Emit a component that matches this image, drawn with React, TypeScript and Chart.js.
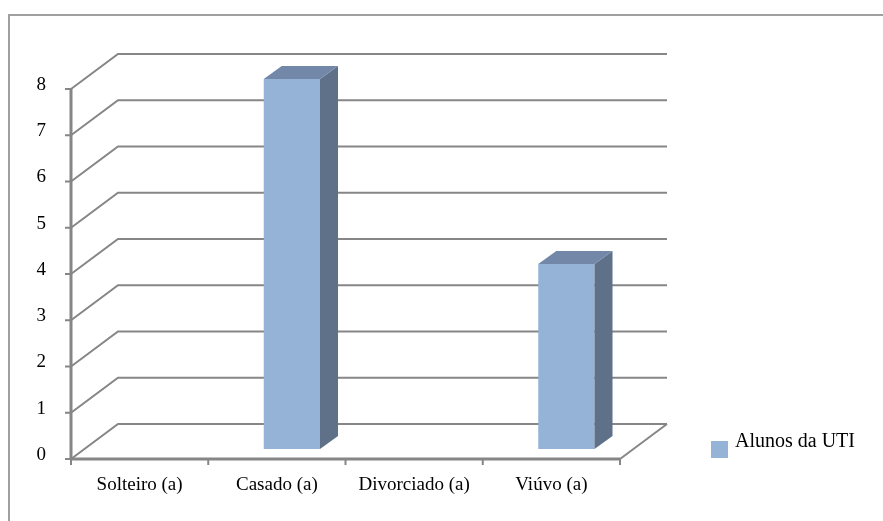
import React, { useEffect, useRef } from "react";
import { Chart, registerables } from "chart.js";

Chart.register(...registerables);

const CATEGORIES = ["Solteiro (a)", "Casado (a)", "Divorciado (a)", "Viúvo (a)"];
const SERIES_LABEL = "Alunos da UTI";
const SERIES_VALUES = [0, 8, 0, 4];
const Y_TICKS = [0, 1, 2, 3, 4, 5, 6, 7, 8];

const FONT = "Liberation Serif";
const FRONT_COLOR = "#95B3D7";
const TOP_COLOR = "#7388A8";
const SIDE_COLOR = "#5F7089";
const GRID_COLOR = "#868686";

// 3D offsets relative to the bar (data) plane
const FRONT = { dx: -15, dy: 10 };
const BACK = { dx: 32, dy: -25 };
const BAR_DEPTH = { dx: 18, dy: -13 };

const threeD = {
  id: "threeD",
  beforeDatasetsDraw(chart: any) {
    const ctx = chart.ctx;
    const xs = chart.scales.x;
    const ys = chart.scales.y;
    ctx.save();
    // outer frame
    ctx.strokeStyle = "#A0A0A0";
    ctx.lineWidth = 2;
    ctx.strokeRect(9, 15, chart.width + 20, chart.height + 20);

    const fxL = xs.left + FRONT.dx;
    const fxR = xs.right + FRONT.dx;
    const bxR = xs.right + BACK.dx;
    const ddx = BACK.dx - FRONT.dx;
    const ddy = BACK.dy - FRONT.dy;

    // back wall gridlines + side wall diagonals
    ctx.strokeStyle = GRID_COLOR;
    ctx.lineWidth = 2;
    ctx.lineJoin = "miter";
    for (const v of Y_TICKS) {
      const fy = ys.getPixelForValue(v) + FRONT.dy;
      ctx.beginPath();
      ctx.moveTo(fxL, fy);
      ctx.lineTo(fxL + ddx, fy + ddy);
      ctx.lineTo(bxR, fy + ddy);
      ctx.stroke();
    }
    // floor
    const y0f = ys.getPixelForValue(0) + FRONT.dy;
    ctx.beginPath();
    ctx.moveTo(fxR, y0f);
    ctx.lineTo(bxR, y0f + ddy);
    ctx.stroke();

    ctx.lineWidth = 3;
    ctx.beginPath();
    ctx.moveTo(fxL, y0f);
    ctx.lineTo(fxR, y0f);
    ctx.stroke();

    // front y axis
    const yTopF = ys.getPixelForValue(Y_TICKS[Y_TICKS.length - 1]) + FRONT.dy;
    ctx.beginPath();
    ctx.moveTo(fxL, yTopF);
    ctx.lineTo(fxL, y0f + 1);
    ctx.stroke();

    ctx.lineWidth = 2;
    ctx.fillStyle = "#000";
    ctx.font = `19px "${FONT}"`;
    ctx.textAlign = "right";
    ctx.textBaseline = "middle";
    for (const v of Y_TICKS) {
      const fy = ys.getPixelForValue(v) + FRONT.dy;
      ctx.beginPath();
      ctx.moveTo(fxL - 6, fy);
      ctx.lineTo(fxL, fy);
      ctx.stroke();
      ctx.fillText(String(v), fxL - 25, fy - 4);
    }

    // x ticks and labels
    const n = CATEGORIES.length;
    const step = (xs.right - xs.left) / n;
    for (let i = 0; i <= n; i++) {
      const bx = xs.left + i * step + FRONT.dx;
      ctx.beginPath();
      ctx.moveTo(bx, y0f);
      ctx.lineTo(bx, y0f + 6);
      ctx.stroke();
    }
    ctx.textAlign = "center";
    CATEGORIES.forEach((c, i) => {
      const cx = xs.getPixelForValue(i) + FRONT.dx;
      ctx.fillText(c, cx, y0f + 26);
    });
    ctx.restore();
  },
  afterDatasetsDraw(chart: any) {
    const ctx = chart.ctx;
    const meta = chart.getDatasetMeta(0);
    ctx.save();
    meta.data.forEach((bar: any, i: number) => {
      if (!SERIES_VALUES[i]) return;
      const { x, y, base, width } = bar.getProps(["x", "y", "base", "width"], true);
      const l = x - width / 2;
      const r = x + width / 2;
      ctx.fillStyle = SIDE_COLOR;
      ctx.beginPath();
      ctx.moveTo(r, y);
      ctx.lineTo(r + BAR_DEPTH.dx, y + BAR_DEPTH.dy);
      ctx.lineTo(r + BAR_DEPTH.dx, base + BAR_DEPTH.dy);
      ctx.lineTo(r, base);
      ctx.closePath();
      ctx.fill();
      ctx.fillStyle = TOP_COLOR;
      ctx.beginPath();
      ctx.moveTo(l, y);
      ctx.lineTo(r, y);
      ctx.lineTo(r + BAR_DEPTH.dx, y + BAR_DEPTH.dy);
      ctx.lineTo(l + BAR_DEPTH.dx, y + BAR_DEPTH.dy);
      ctx.closePath();
      ctx.fill();
    });
    ctx.restore();
  },
  afterDraw(chart: any) {
    const ctx = chart.ctx;
    ctx.save();
    ctx.fillStyle = FRONT_COLOR;
    ctx.fillRect(711, 441, 17, 17);
    ctx.fillStyle = "#000";
    ctx.font = `20px "${FONT}"`;
    ctx.textAlign = "left";
    ctx.textBaseline = "middle";
    ctx.fillText(SERIES_LABEL, 735, 442);
    ctx.restore();
  },
};

export default function App() {
  const ref = useRef<HTMLCanvasElement>(null);
  useEffect(() => {
    document.body.style.margin = "0";
    const chart = new Chart(ref.current!, {
      type: "bar",
      data: {
        labels: CATEGORIES,
        datasets: [
          {
            label: SERIES_LABEL,
            data: SERIES_VALUES,
            backgroundColor: FRONT_COLOR,
            borderWidth: 0,
            categoryPercentage: 1,
            barPercentage: 0.41,
          },
        ],
      },
      options: {
        animation: false,
        responsive: false,
        devicePixelRatio: 1,
        layout: { padding: { left: 86, right: 248, top: 79, bottom: 72 } },
        scales: {
          x: { display: false, offset: true },
          y: { display: false, min: 0, max: 8 },
        },
        plugins: { legend: { display: false }, tooltip: { enabled: false } },
      },
      plugins: [threeD],
    });
    return () => chart.destroy();
  }, []);
  return (
    <div style={{ position: "absolute", left: 0, top: 0, width: 883, height: 521, background: "#fff" }}>
      <canvas ref={ref} width={883} height={521} />
    </div>
  );
}
